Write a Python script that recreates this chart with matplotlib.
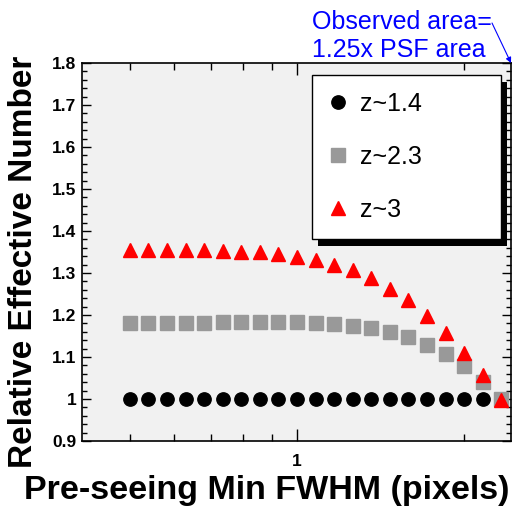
import numpy as np
import matplotlib
matplotlib.use('Agg')
import matplotlib.pyplot as plt
from matplotlib.ticker import FixedLocator, NullFormatter, FixedFormatter
from matplotlib.patches import Rectangle

plt.rcParams['font.family'] = ['Liberation Sans', 'DejaVu Sans']

# pre-seeing min FWHM (pixels)
fwhm = [0.500, 0.540, 0.583, 0.630, 0.680, 0.735, 0.794, 0.857, 0.926, 1.000, 1.080,
        1.166, 1.260, 1.361, 1.470, 1.587, 1.714, 1.852, 2.000, 2.160, 2.333]

z14 = [1.0] * 21
z23 = [1.181, 1.181, 1.182, 1.182, 1.182, 1.183, 1.183, 1.183, 1.183, 1.183, 1.181,
       1.178, 1.175, 1.168, 1.160, 1.147, 1.129, 1.107, 1.078, 1.041, 0.999]
z3 = [1.354, 1.354, 1.354, 1.354, 1.354, 1.352, 1.351, 1.349, 1.345, 1.339, 1.331,
      1.320, 1.307, 1.287, 1.263, 1.235, 1.198, 1.157, 1.110, 1.056, 0.998]

labels = ['z~1.4', 'z~2.3', 'z~3']
ytick_vals = [0.9, 1.0, 1.1, 1.2, 1.3, 1.4, 1.5, 1.6, 1.7, 1.8]
ytick_labels = ['0.9', '1', '1.1', '1.2', '1.3', '1.4', '1.5', '1.6', '1.7', '1.8']
xminor = [0.5, 0.6, 0.7, 0.8, 0.9, 2.0]

W, H = 514, 512
fig = plt.figure(figsize=(W / 100, H / 100), dpi=100)
ax = fig.add_axes([82 / W, 1 - 441 / H, (511 - 82) / W, (441 - 63) / H])
ax.set_facecolor('#f1f1f1')

h1, = ax.plot(fwhm, z14, 'o', color='black', ms=9.6, ls='none', label=labels[0], zorder=3)
h2, = ax.plot(fwhm, z23, 's', color='#999999', ms=10.4, ls='none', label=labels[1], zorder=3)
h3, = ax.plot(fwhm, z3, '^', color='red', ms=9.8, ls='none', label=labels[2], zorder=3)

ax.set_xscale('log')
ax.set_xlim(0.41, 2.43)
ax.set_ylim(0.9, 1.8)
ax.xaxis.set_major_locator(FixedLocator([1.0]))
ax.xaxis.set_major_formatter(FixedFormatter(['1']))
ax.xaxis.set_minor_locator(FixedLocator(xminor))
ax.xaxis.set_minor_formatter(NullFormatter())
ax.yaxis.set_major_locator(FixedLocator(ytick_vals))
ax.yaxis.set_major_formatter(FixedFormatter(ytick_labels))
ax.yaxis.set_minor_locator(FixedLocator(np.arange(0.9, 1.8001, 0.02)))

ax.tick_params(which='both', direction='in', top=True, right=True, width=1)
ax.tick_params(axis='x', which='major', length=8.6, pad=9)
ax.tick_params(axis='x', which='minor', length=5)
ax.tick_params(axis='y', which='major', length=6.5, pad=4)
ax.tick_params(axis='y', which='minor', length=3.6)
for lab in ax.get_xticklabels() + ax.get_yticklabels():
    lab.set_fontsize(12.5)
    lab.set_fontweight('bold')
for s in ax.spines.values():
    s.set_linewidth(1.2)

fig.text(509 / W, 1 - 499 / H, 'Pre-seeing Min FWHM (pixels)', fontsize=24.5,
         fontweight='bold', ha='right', va='baseline')
fig.text(24 / W, 1 - 262 / H, 'Relative Effective Number', fontsize=24,
         fontweight='bold', rotation=90, ha='center', va='center')

leg = ax.legend(handles=[h1, h2, h3], loc='upper left',
                bbox_to_anchor=(0.536, 0.542, 0.441, 0.426), mode='expand',
                borderaxespad=0, fontsize=18, fancybox=False, framealpha=1,
                edgecolor='black', handlelength=0.7, handletextpad=0.55,
                borderpad=0.68, labelspacing=1.16)
leg.get_frame().set_linewidth(1.0)
leg.set_zorder(5)

fig.canvas.draw()
bb = leg.get_window_extent().transformed(ax.transAxes.inverted())
dx, dy = 6 / 429, 7 / 378
ax.add_patch(Rectangle((bb.x0 + dx, bb.y0 - dy), bb.width, bb.height,
                       transform=ax.transAxes, facecolor='black',
                       edgecolor='none', zorder=4.5, clip_on=False))

fig.text(312 / W, 1 - 29.3 / H, 'Observed area=', fontsize=18, color='blue',
         ha='left', va='baseline')
fig.text(312 / W, 1 - 57.3 / H, '1.25x PSF area', fontsize=18, color='blue',
         ha='left', va='baseline')
ax.annotate('', xy=(1.0, 1.0), xycoords='axes fraction',
            xytext=(492, H - 23), textcoords='figure pixels',
            arrowprops=dict(arrowstyle='-|>', color='blue', lw=0.8,
                            mutation_scale=8, shrinkA=0, shrinkB=0))

fig.savefig('out.png', dpi=100)
